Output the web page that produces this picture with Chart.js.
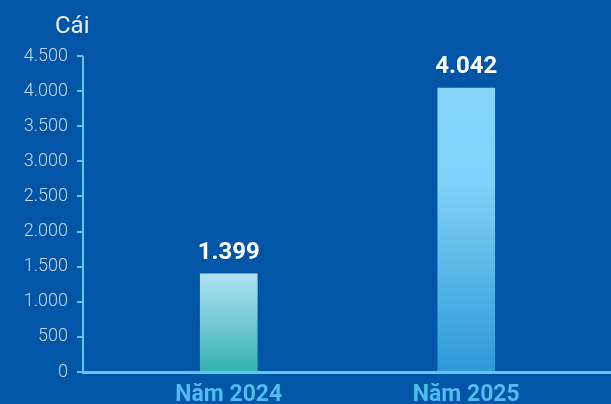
<!DOCTYPE html>
<html>
<head>
<meta charset="utf-8">
<script src="https://cdn.jsdelivr.net/npm/chart.js@4"></script>
<style>
    html, body { margin: 0; padding: 0; background: #0155a6; }
    #wrap { width: 611px; height: 404px; position: relative; }
</style>
</head>
<body>
<div id="wrap"><canvas id="chart"></canvas></div>
<script>
// Data
const categories = ['Năm 2024', 'Năm 2025'];
const values = [1399, 4042];
const unitLabel = 'Cái';
const yMax = 4500;
const yStep = 500;

const axisColor = '#5ec6f1';
const axisX = 83; // where the y axis line sits

function fmt(v) {
    return v.toLocaleString('de-DE');
}

// Bar gradients
function barFill(context) {
    const chart = context.chart;
    const area = chart.chartArea;
    if (!area) return '#84d4f7';
    const bar = context.dataIndex;
    const y0 = chart.scales.y.getPixelForValue(0);
    const yTop = chart.scales.y.getPixelForValue(values[bar]);
    const g = chart.ctx.createLinearGradient(0, yTop, 0, y0);
    if (bar === 0) {
        g.addColorStop(0, '#b0e2f4');
        g.addColorStop(1, '#34b1b1');
    } else {
        g.addColorStop(0, '#84d5f8');
        g.addColorStop(0.33, '#80d2f6');
        g.addColorStop(1, '#2d99d8');
    }
    return g;
}

// Axis lines, tick marks, unit label and value labels
const decorPlugin = {
    id: 'decor',
    afterDatasetsDraw(chart) {
        const ctx = chart.ctx;
        const y = chart.scales.y;
        const y0 = y.getPixelForValue(0);
        const yTop = y.getPixelForValue(yMax);
        ctx.save();
        ctx.strokeStyle = axisColor;
        ctx.lineWidth = 2;
        ctx.beginPath();
        ctx.moveTo(axisX, yTop);
        ctx.lineTo(axisX, y0);
        for (let v = 0; v <= yMax; v += yStep) {
            const p = Math.round(y.getPixelForValue(v));
            ctx.moveTo(axisX - 6, p);
            ctx.lineTo(axisX, p);
        }
        ctx.stroke();
        ctx.lineWidth = 3;
        ctx.beginPath();
        ctx.moveTo(axisX - 1, y0 + 0.5);
        ctx.lineTo(chart.width, y0 + 0.5);
        ctx.stroke();

        // unit
        ctx.fillStyle = '#e8f0f8';
        ctx.font = '24px Roboto';
        ctx.textAlign = 'left';
        ctx.textBaseline = 'middle';
        ctx.fillText(unitLabel, 55, 27);

        // values on top
        const meta = chart.getDatasetMeta(0);
        ctx.fillStyle = '#ffffff';
        ctx.font = 'bold 24px Roboto';
        ctx.textAlign = 'center';
        meta.data.forEach((bar, i) => {
            ctx.fillText(fmt(values[i]), bar.x, bar.y - 21);
        });
        ctx.restore();
    }
};

new Chart(document.getElementById('chart'), {
    type: 'bar',
    data: {
        labels: categories,
        datasets: [{
            data: values,
            backgroundColor: barFill,
            borderWidth: 0,
            barThickness: 57
        }]
    },
    options: {
        responsive: true,
        maintainAspectRatio: false,
        animation: false,
        layout: { padding: { top: 56, right: 26, left: 0, bottom: 0 } },
        plugins: { legend: { display: false }, tooltip: { enabled: false } },
        scales: {
            x: {
                afterFit(scale) {
                    scale.height = 32;
                    scale.paddingLeft = 0;
                    scale.paddingRight = 0;
                },
                grid: { display: false, drawTicks: false },
                border: { display: false },
                ticks: {
                    color: '#4fbdf0',
                    font: { family: 'Roboto', size: 23, weight: 'bold' },
                    padding: 9
                }
            },
            y: {
                min: 0,
                max: yMax,
                afterFit(scale) {
                    scale.width = 110;
                    scale.paddingTop = 0;
                    scale.paddingBottom = 0;
                },
                grid: { display: false, drawTicks: false },
                border: { display: false },
                ticks: {
                    stepSize: yStep,
                    color: '#c6d9ee',
                    font: { family: 'Roboto', size: 18, weight: '300' },
                    padding: 42,
                    callback: v => fmt(v)
                }
            }
        }
    },
    plugins: [decorPlugin]
});
</script>
</body>
</html>
